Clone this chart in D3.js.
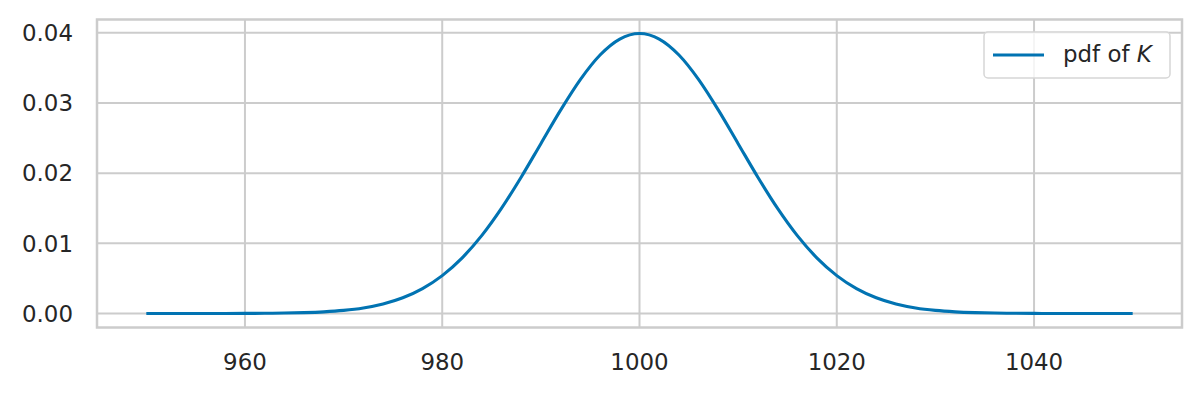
<!DOCTYPE html>
<html>
<head>
<meta charset="utf-8">
<script src="https://cdn.jsdelivr.net/npm/d3@7"></script>
<style>
  body { margin: 0; background: #fff; }
  text { font-family: "DejaVu Sans", sans-serif; fill: #262626; }
</style>
</head>
<body>
<script>
(function(){

//values, x every 2 units from 950 to 1050
var xValues = d3.range(950, 1051, 2);
var pdfValues = [
    0.00000015, 0.0000004, 0.000001, 0.0000025, 0.0000059,
    0.0000134, 0.0000292, 0.0000612, 0.000123, 0.000238,
    0.000443, 0.000792, 0.001358, 0.002239, 0.003547,
    0.005399, 0.007895, 0.011092, 0.014973, 0.019419,
    0.024197, 0.028969, 0.033322, 0.036827, 0.039104,
    0.039894,
    0.039104, 0.036827, 0.033322, 0.028969, 0.024197,
    0.019419, 0.014973, 0.011092, 0.007895, 0.005399,
    0.003547, 0.002239, 0.001358, 0.000792, 0.000443,
    0.000238, 0.000123, 0.0000612, 0.0000292, 0.0000134,
    0.0000059, 0.0000025, 0.000001, 0.0000004, 0.00000015
];
var xTicks = [960, 980, 1000, 1020, 1040];
var yTicks = [0, 0.01, 0.02, 0.03, 0.04];
var legendLabel = "pdf of ";

var width = 1202,
    height = 395;

var plot = {left: 97, right: 1182, top: 19.5, bottom: 327.5};

var svg = d3.select("body")
    .append("svg")
    .attr("width", width)
    .attr("height", height);

var x = d3.scaleLinear()
    .domain([945, 1055])
    .range([plot.left, plot.right]);

var y = d3.scaleLinear()
    .domain([-0.001995, 0.041889])
    .range([plot.bottom, plot.top]);

//grid lines
svg.selectAll(".vgrid")
    .data(xTicks)
    .enter()
    .append("line")
    .attr("x1", function(d){ return x(d); })
    .attr("x2", function(d){ return x(d); })
    .attr("y1", plot.top)
    .attr("y2", plot.bottom)
    .attr("stroke", "#cccccc")
    .attr("stroke-width", 2);

svg.selectAll(".hgrid")
    .data(yTicks)
    .enter()
    .append("line")
    .attr("x1", plot.left)
    .attr("x2", plot.right)
    .attr("y1", function(d){ return y(d); })
    .attr("y2", function(d){ return y(d); })
    .attr("stroke", "#cccccc")
    .attr("stroke-width", 2);

//tick labels
svg.selectAll(".xlab")
    .data(xTicks)
    .enter()
    .append("text")
    .attr("x", function(d){ return x(d); })
    .attr("y", 370)
    .attr("text-anchor", "middle")
    .style("font-size", "22.9px")
    .text(function(d){ return d; });

svg.selectAll(".ylab")
    .data(yTicks)
    .enter()
    .append("text")
    .attr("x", 73)
    .attr("y", function(d){ return y(d); })
    .attr("dy", "0.36em")
    .attr("text-anchor", "end")
    .style("font-size", "22.9px")
    .text(function(d){ return d3.format(".2f")(d); });

//the curve
var line = d3.line()
    .x(function(d, i){ return x(xValues[i]); })
    .y(function(d){ return y(d); })
    .curve(d3.curveMonotoneX);

svg.append("path")
    .datum(pdfValues)
    .attr("d", line)
    .attr("fill", "none")
    .attr("stroke", "#0173b2")
    .attr("stroke-width", 3.1);

//frame
svg.append("rect")
    .attr("x", plot.left)
    .attr("y", plot.top)
    .attr("width", plot.right - plot.left)
    .attr("height", plot.bottom - plot.top)
    .attr("fill", "none")
    .attr("stroke", "#cccccc")
    .attr("stroke-width", 2.5);

//legend
var legend = svg.append("g");

legend.append("rect")
    .attr("x", 984)
    .attr("y", 32)
    .attr("width", 186)
    .attr("height", 46)
    .attr("rx", 4)
    .attr("fill", "#ffffff")
    .attr("fill-opacity", 0.8)
    .attr("stroke", "#d6d6d6")
    .attr("stroke-width", 1.5);

legend.append("line")
    .attr("x1", 993)
    .attr("x2", 1044)
    .attr("y1", 55)
    .attr("y2", 55)
    .attr("stroke", "#0173b2")
    .attr("stroke-width", 3.1);

var lt = legend.append("text")
    .attr("x", 1063)
    .attr("y", 62)
    .style("font-size", "22.9px");

lt.append("tspan").text(legendLabel);
lt.append("tspan")
    .style("font-style", "italic")
    .text("K");

})();
</script>
</body>
</html>
